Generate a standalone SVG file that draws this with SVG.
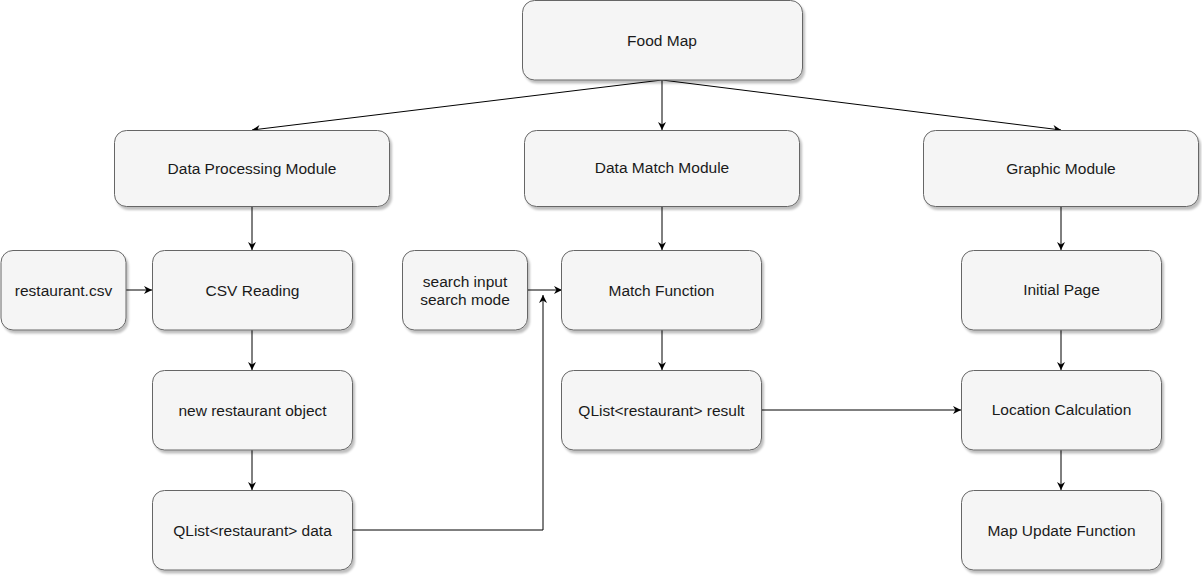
<svg xmlns="http://www.w3.org/2000/svg" width="1202" height="577" viewBox="0 0 1202 577">
<style>
.box{fill:#f5f5f5;stroke:#666666;stroke-width:1;filter:url(#sh)}
.lbl{font-family:"Liberation Sans",Arial,sans-serif;font-size:15.5px;fill:#1a1a1a;text-anchor:middle;dominant-baseline:central}
.edge{fill:none;stroke:#000000;stroke-width:1;marker-end:url(#arr)}
</style>
<defs>
<filter id="sh" x="-10%" y="-10%" width="130%" height="140%">
<feDropShadow dx="2" dy="3" stdDeviation="1" flood-color="#000000" flood-opacity="0.25"/>
</filter>
<marker id="arr" viewBox="0 0 10 10" refX="10" refY="5" markerWidth="8" markerHeight="8" markerUnits="userSpaceOnUse" orient="auto">
<path d="M0,0 L10,5 L0,10 L3,5 Z" fill="#000000"/>
</marker>
</defs>
<rect width="1202" height="577" fill="#ffffff"/>
<g id="connectors">
<path class="edge" d="M662,80 L252,130"/>
<path class="edge" d="M662,80 L662,130"/>
<path class="edge" d="M662,80 L1061,130"/>
<path class="edge" d="M252,207 L252,250"/>
<path class="edge" d="M126,290 L152,290"/>
<path class="edge" d="M252,330 L252,370"/>
<path class="edge" d="M252,450 L252,490"/>
<path class="edge" d="M352,530 L543,530 L543,295"/>
<path class="edge" d="M527,290 L562,290"/>
<path class="edge" d="M662,206 L662,250"/>
<path class="edge" d="M662,330 L662,370"/>
<path class="edge" d="M762,410 L961,410"/>
<path class="edge" d="M1061,207 L1061,250"/>
<path class="edge" d="M1061,330 L1061,370"/>
<path class="edge" d="M1061,450 L1061,490"/>
</g>
<g id="food-map"><rect class="box" x="522.5" y="0.5" width="280" height="79.5" rx="12"/><text class="lbl" x="662" y="40">Food Map</text></g>
<g id="data-processing"><rect class="box" x="114.5" y="130.5" width="275" height="76" rx="12"/><text class="lbl" x="252" y="168">Data Processing Module</text></g>
<g id="data-match"><rect class="box" x="524.5" y="130.5" width="275" height="76" rx="12"/><text class="lbl" x="662" y="167">Data Match Module</text></g>
<g id="graphic"><rect class="box" x="923.5" y="130.5" width="275" height="76" rx="12"/><text class="lbl" x="1061" y="168">Graphic Module</text></g>
<g id="restaurant-csv"><rect class="box" x="1" y="250.5" width="125" height="79.5" rx="12"/><text class="lbl" x="63.5" y="290">restaurant.csv</text></g>
<g id="csv-reading"><rect class="box" x="152.5" y="250.5" width="200" height="79.5" rx="12"/><text class="lbl" x="252.5" y="290">CSV Reading</text></g>
<g id="new-restaurant"><rect class="box" x="152.5" y="370.5" width="200" height="79.5" rx="12"/><text class="lbl" x="252.5" y="410">new restaurant object</text></g>
<g id="qlist-data"><rect class="box" x="152.5" y="490.5" width="200" height="79.5" rx="12"/><text class="lbl" x="252.5" y="530">QList&lt;restaurant&gt; data</text></g>
<g id="search-input"><rect class="box" x="402.5" y="250.5" width="125" height="79.5" rx="12"/><text class="lbl" x="465" y="281">search input</text><text class="lbl" x="465" y="299">search mode</text></g>
<g id="match-function"><rect class="box" x="561.5" y="250.5" width="200" height="79.5" rx="12"/><text class="lbl" x="661.5" y="290">Match Function</text></g>
<g id="qlist-result"><rect class="box" x="561.5" y="370.5" width="200" height="79.5" rx="12"/><text class="lbl" x="661.5" y="410">QList&lt;restaurant&gt; result</text></g>
<g id="initial-page"><rect class="box" x="961.5" y="250.5" width="200" height="79.5" rx="12"/><text class="lbl" x="1061.5" y="289">Initial Page</text></g>
<g id="location-calc"><rect class="box" x="961.5" y="370.5" width="200" height="79.5" rx="12"/><text class="lbl" x="1061.5" y="409">Location Calculation</text></g>
<g id="map-update"><rect class="box" x="961.5" y="490.5" width="200" height="79.5" rx="12"/><text class="lbl" x="1061.5" y="530">Map Update Function</text></g>
</svg>
